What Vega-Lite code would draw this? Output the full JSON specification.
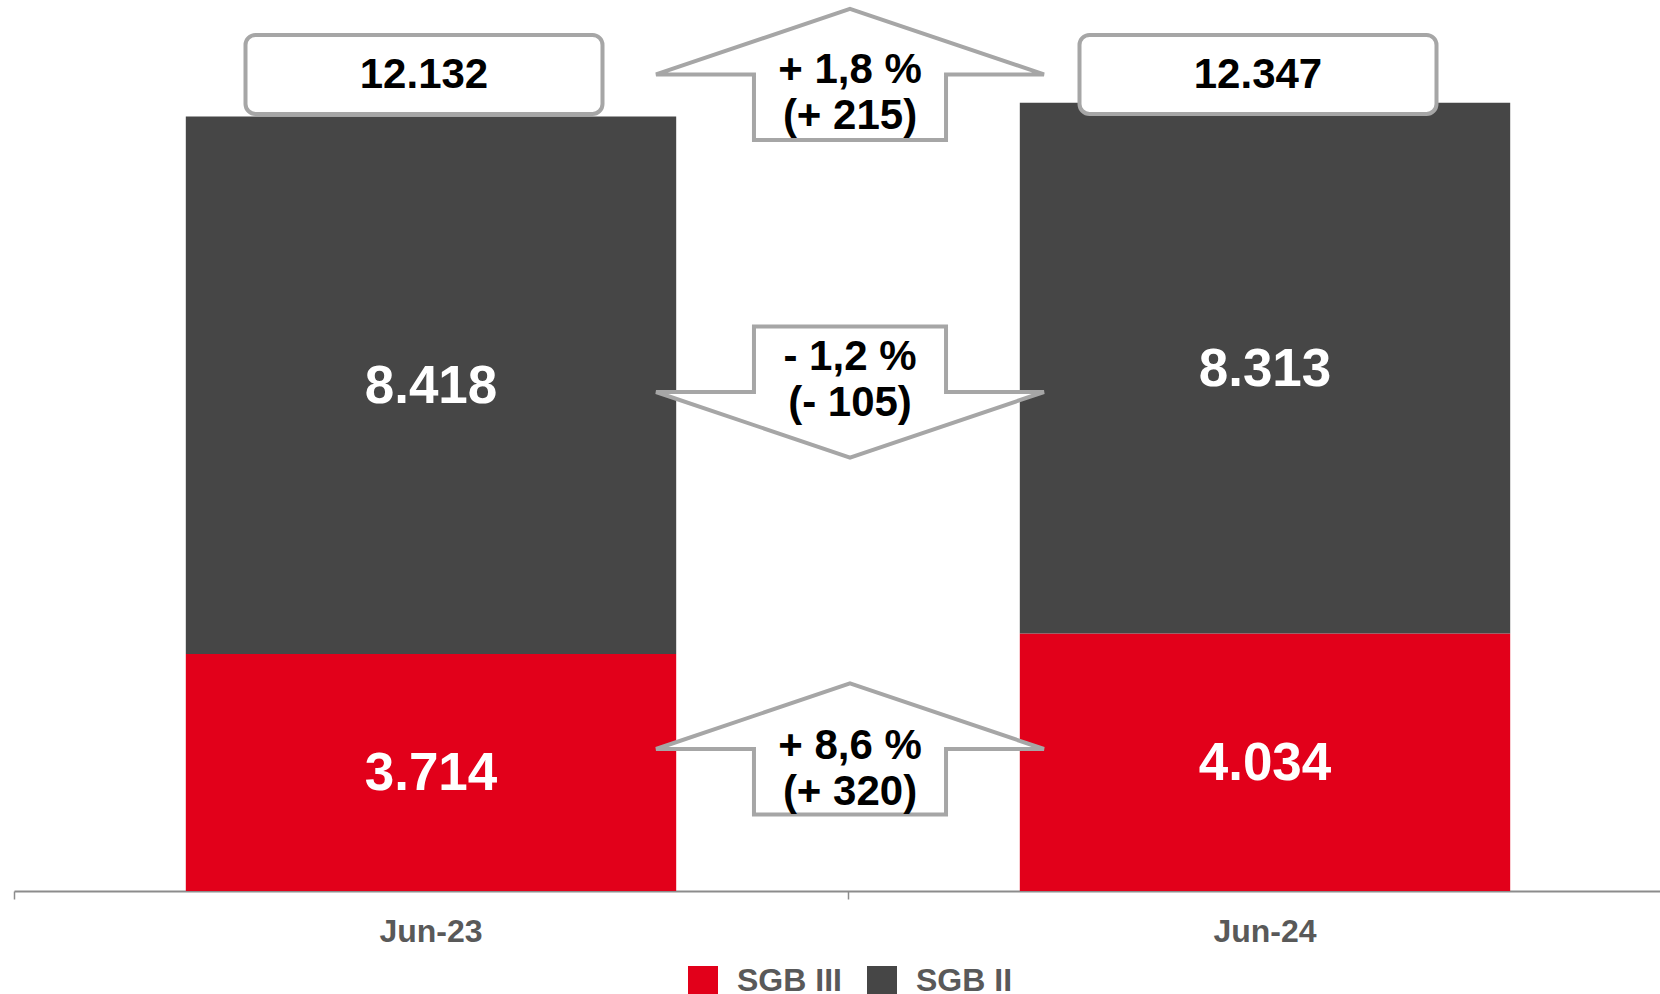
{
  "$schema": "https://vega.github.io/schema/vega-lite/v6.json",
  "width": 1646,
  "height": 890,
  "autosize": {"type": "none"},
  "padding": {"left": 14, "top": 1, "right": 0, "bottom": 103},
  "config": {
    "view": {"stroke": null},
    "font": "Liberation Sans",
    "locale": {"number": {"decimal": ",", "thousands": ".", "grouping": [3], "currency": ["", " €"]}}
  },
  "datasets": {
    "main": [
      {"date": "Jun-23", "series": "SGB III", "value": 3714},
      {"date": "Jun-23", "series": "SGB II", "value": 8418},
      {"date": "Jun-24", "series": "SGB III", "value": 4034},
      {"date": "Jun-24", "series": "SGB II", "value": 8313}
    ],
    "changes": [
      {"series": "Gesamt", "label": "+ 1,8 %\n(+ 215)"},
      {"series": "SGB II", "label": "- 1,2 %\n(- 105)"},
      {"series": "SGB III", "label": "+ 8,6 %\n(+ 320)"}
    ]
  },
  "layer": [
    {
      "data": {"name": "main"},
      "mark": {"type": "bar", "width": {"band": 0.588}},
      "encoding": {
        "x": {
          "field": "date", "type": "nominal", "title": null,
          "scale": {"type": "band", "domain": ["Jun-23", "Jun-24"], "range": [0, 1668], "paddingInner": 0, "paddingOuter": 0},
          "axis": {
            "domainColor": "#8c8c8c", "domainWidth": 2, "tickColor": "#8c8c8c", "tickWidth": 1.5, "tickSize": 8,
            "bandPosition": 0, "labelFontSize": 32, "labelFontWeight": "bold", "labelColor": "#595959",
            "labelPadding": 32, "labelBaseline": "middle", "labelAngle": 0, "grid": false, "labelFont": "Liberation Sans"
          }
        },
        "y": {
          "field": "value", "type": "quantitative", "stack": "zero",
          "scale": {"domain": [0, 13940], "nice": false, "zero": true},
          "axis": null
        },
        "color": {
          "field": "series", "type": "nominal",
          "scale": {"domain": ["SGB III", "SGB II"], "range": ["#e2001a", "#464646"]},
          "legend": {
            "title": null, "orient": "none", "legendX": 673, "legendY": 964, "direction": "horizontal",
            "symbolType": "square", "symbolSize": 900, "symbolStrokeWidth": 0,
            "labelFontSize": 32, "labelFontWeight": "bold", "labelColor": "#595959", "labelFont": "Liberation Sans",
            "labelOffset": 18, "columnPadding": 24, "padding": 0
          }
        },
        "order": {"field": "series", "sort": "descending"}
      }
    },
    {
      "data": {"name": "main"},
      "transform": [
        {"stack": "value", "groupby": ["date"], "sort": [{"field": "series", "order": "descending"}], "as": ["lo", "hi"]},
        {"fold": ["lo", "hi"], "as": ["edge", "pos"]},
        {"aggregate": [{"op": "mean", "field": "pos", "as": "mid"}], "groupby": ["date", "series", "value"]}
      ],
      "mark": {"type": "text", "color": "white", "fontSize": 53, "fontWeight": "bold", "baseline": "middle", "align": "center", "dy": 2},
      "encoding": {
        "x": {"field": "date", "type": "nominal"},
        "y": {"field": "mid", "type": "quantitative"},
        "text": {"field": "value", "type": "quantitative", "format": ",d"}
      }
    },
    {
      "data": {"name": "main"},
      "transform": [{"aggregate": [{"op": "sum", "field": "value", "as": "total"}], "groupby": ["date"]}],
      "layer": [
        {
          "mark": {"type": "bar", "width": 357, "xOffset": -7, "fill": "white", "stroke": "#a6a6a6", "strokeWidth": 4, "cornerRadius": 10},
          "encoding": {
            "x": {"field": "date", "type": "nominal"},
            "y": {"datum": 12171, "type": "quantitative"},
            "y2": {"datum": 13409}
          }
        },
        {
          "mark": {"type": "text", "color": "black", "fontSize": 42, "fontWeight": "bold", "baseline": "middle", "align": "center", "xOffset": -7, "dy": 1},
          "encoding": {
            "x": {"field": "date", "type": "nominal"},
            "y": {"datum": 12790, "type": "quantitative"},
            "text": {"field": "total", "type": "quantitative", "format": ",d"}
          }
        }
      ]
    },
    {
      "data": {"name": "changes"},
      "transform": [{"filter": "datum.series === 'Gesamt'"}],
      "encoding": {
        "x": {"datum": "Jun-24", "type": "nominal", "bandPosition": 0},
        "y": {"datum": 12790, "type": "quantitative"}
      },
      "layer": [
        {"mark": {"type": "point", "shape": "M 0 -0.338 L 1 0 L 0.495 0 L 0.495 0.338 L -0.495 0.338 L -0.495 0 L -1 0 Z", "size": 150544, "filled": true, "fill": "white", "stroke": "#a6a6a6", "strokeWidth": 4, "opacity": 1, "xOffset": 2}},
        {"mark": {"type": "text", "color": "black", "fontSize": 42, "fontWeight": "bold", "baseline": "middle", "align": "center", "lineBreak": "\n", "lineHeight": 46, "dy": -4.5, "xOffset": 2},
         "encoding": {"text": {"field": "label", "type": "nominal"}}}
      ]
    },
    {
      "data": {"name": "changes"},
      "transform": [{"filter": "datum.series === 'SGB II'"}],
      "encoding": {
        "x": {"datum": "Jun-24", "type": "nominal", "bandPosition": 0},
        "y": {"datum": 7816, "type": "quantitative"}
      },
      "layer": [
        {"mark": {"type": "point", "shape": "M -0.495 -0.338 L 0.495 -0.338 L 0.495 0 L 1 0 L 0 0.338 L -1 0 L -0.495 0 Z", "size": 150544, "filled": true, "fill": "white", "stroke": "#a6a6a6", "strokeWidth": 4, "opacity": 1, "xOffset": 2}},
        {"mark": {"type": "text", "color": "black", "fontSize": 42, "fontWeight": "bold", "baseline": "middle", "align": "center", "lineBreak": "\n", "lineHeight": 46, "dy": -35, "xOffset": 2},
         "encoding": {"text": {"field": "label", "type": "nominal"}}}
      ]
    },
    {
      "data": {"name": "changes"},
      "transform": [{"filter": "datum.series === 'SGB III'"}],
      "encoding": {
        "x": {"datum": "Jun-24", "type": "nominal", "bandPosition": 0},
        "y": {"datum": 2224, "type": "quantitative"}
      },
      "layer": [
        {"mark": {"type": "point", "shape": "M 0 -0.338 L 1 0 L 0.495 0 L 0.495 0.338 L -0.495 0.338 L -0.495 0 L -1 0 Z", "size": 150544, "filled": true, "fill": "white", "stroke": "#a6a6a6", "strokeWidth": 4, "opacity": 1, "xOffset": 2}},
        {"mark": {"type": "text", "color": "black", "fontSize": 42, "fontWeight": "bold", "baseline": "middle", "align": "center", "lineBreak": "\n", "lineHeight": 46, "dy": -3, "xOffset": 2},
         "encoding": {"text": {"field": "label", "type": "nominal"}}}
      ]
    }
  ]
}
